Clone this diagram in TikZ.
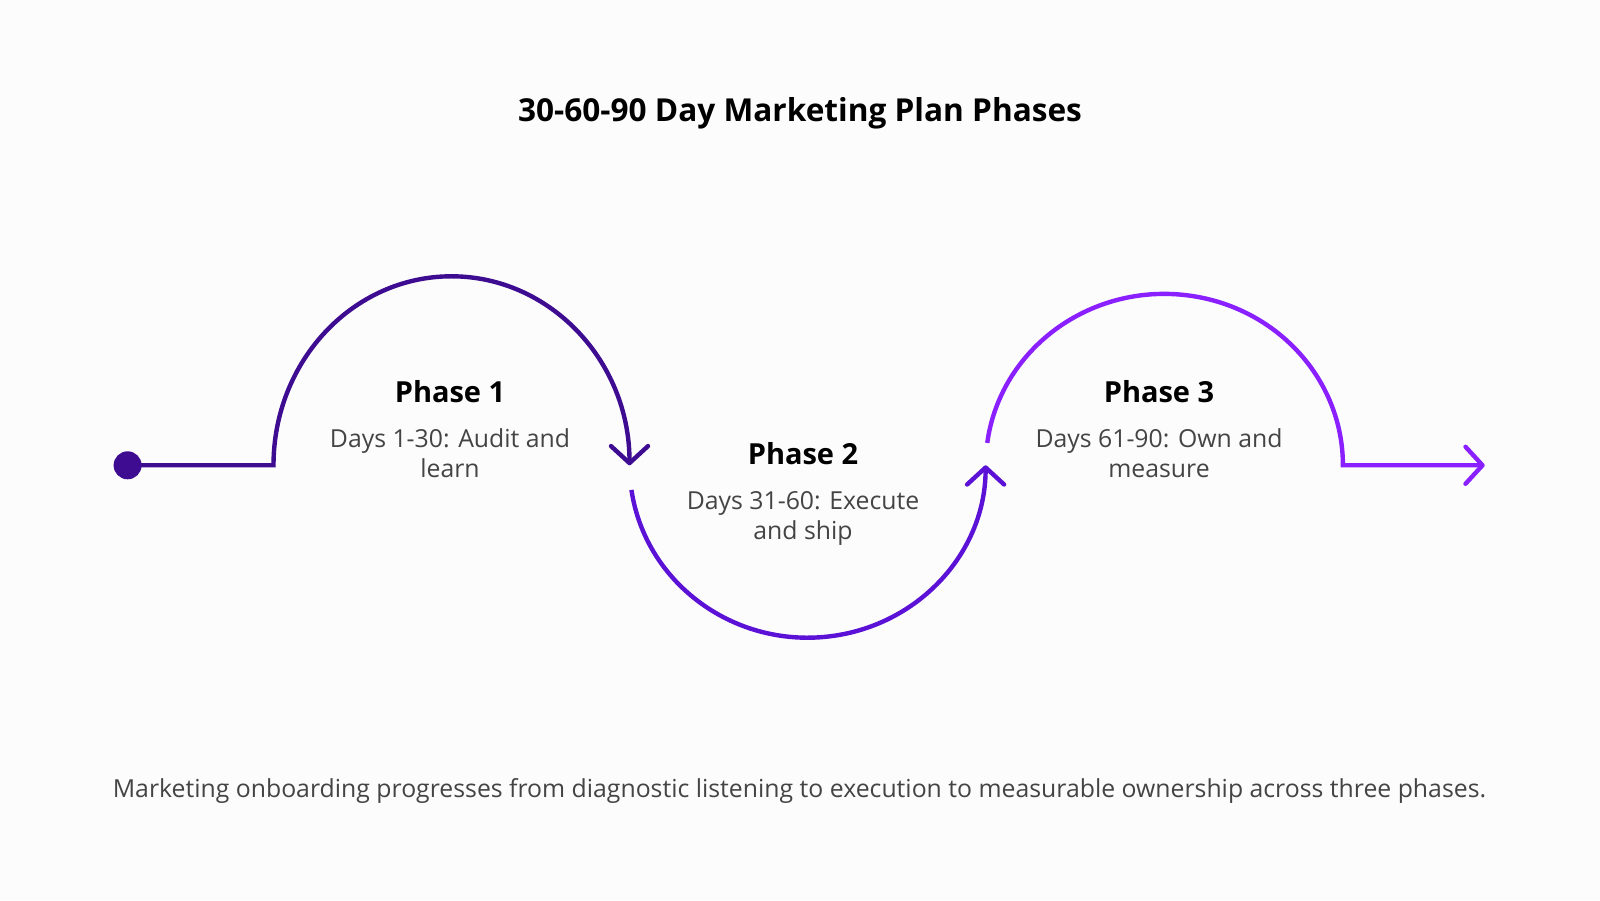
\documentclass[tikz,border=0pt]{standalone}
\usepackage{fontspec}
\setmainfont{Open Sans}
\usetikzlibrary{arrows.meta}
\definecolor{bgc}{HTML}{FCFCFC}
\definecolor{pone}{HTML}{3D0C91}
\definecolor{ptwo}{HTML}{5B12D6}
\definecolor{pthree}{HTML}{8A1FFF}
\definecolor{txtgray}{HTML}{444444}
\begin{document}
\begin{tikzpicture}[x=1pt,y=1pt,
  flow/.style={line width=4.4pt, line join=miter},
  tipend/.style={-{Straight Barb[length=17pt,width=37pt,round]}},
  titlefont/.style={font=\fontsize{31.6}{36}\selectfont\bfseries, text=black, inner sep=0},
  phasefont/.style={font=\fontsize{29}{33}\selectfont\bfseries, text=black, inner sep=0},
  descfont/.style={font=\fontsize{24.8}{30}\selectfont, text=txtgray, align=center, inner sep=0},
  capfont/.style={font=\fontsize{24.8}{28}\selectfont, text=txtgray, inner sep=0}]
\fill[bgc] (0,0) rectangle (1600,900);
\useasboundingbox (0,0) rectangle (1600,900);

\node[titlefont, anchor=base] (title) at (800,778.6) {30-60-90 Day Marketing Plan Phases};

% path geometry
\coordinate (c1) at (273.5,434.7);
\coordinate (m1) at (451.5,434.7);
\coordinate (m2) at (807.6,434.7);
\coordinate (m3) at (1164.3,434.7);
\coordinate (c3) at (1342.9,434.7);
\coordinate (endpt) at (1484.7,434.7);

\draw[flow, pone, tipend] (127.6,434.7) -- (c1)
  arc[start angle=180, end angle=0, x radius=178, y radius=189];
\node[circle, fill=pone, minimum size=28pt, inner sep=0] (start) at (127.6,434.7) {};

\draw[flow, ptwo, tipend] ([shift={(188.2:178 and 172.4)}]m2)
  arc[start angle=188.2, end angle=360, x radius=178, y radius=172.4];

\draw[flow, pthree, tipend] ([shift={(172.5:178.6 and 171.4)}]m3)
  arc[start angle=172.5, end angle=0, x radius=178.6, y radius=171.4] -- (endpt);

% texts
\node[phasefont] (p1) at (450,508.2) {Phase 1};
\node[descfont] (d1) at (450,447) {Days 1-30: Audit and\\learn};
\node[phasefont] (p2) at (803,446) {Phase 2};
\node[descfont] (d2) at (803,382) {Days 31-60: Execute\\and ship};
\node[phasefont] (p3) at (1159,508.2) {Phase 3};
\node[descfont] (d3) at (1159,447) {Days 61-90: Own and\\measure};

\node[capfont, anchor=base] (cap) at (799.5,103) {Marketing onboarding progresses from diagnostic listening to execution to measurable ownership across three phases.};
\end{tikzpicture}
\end{document}
